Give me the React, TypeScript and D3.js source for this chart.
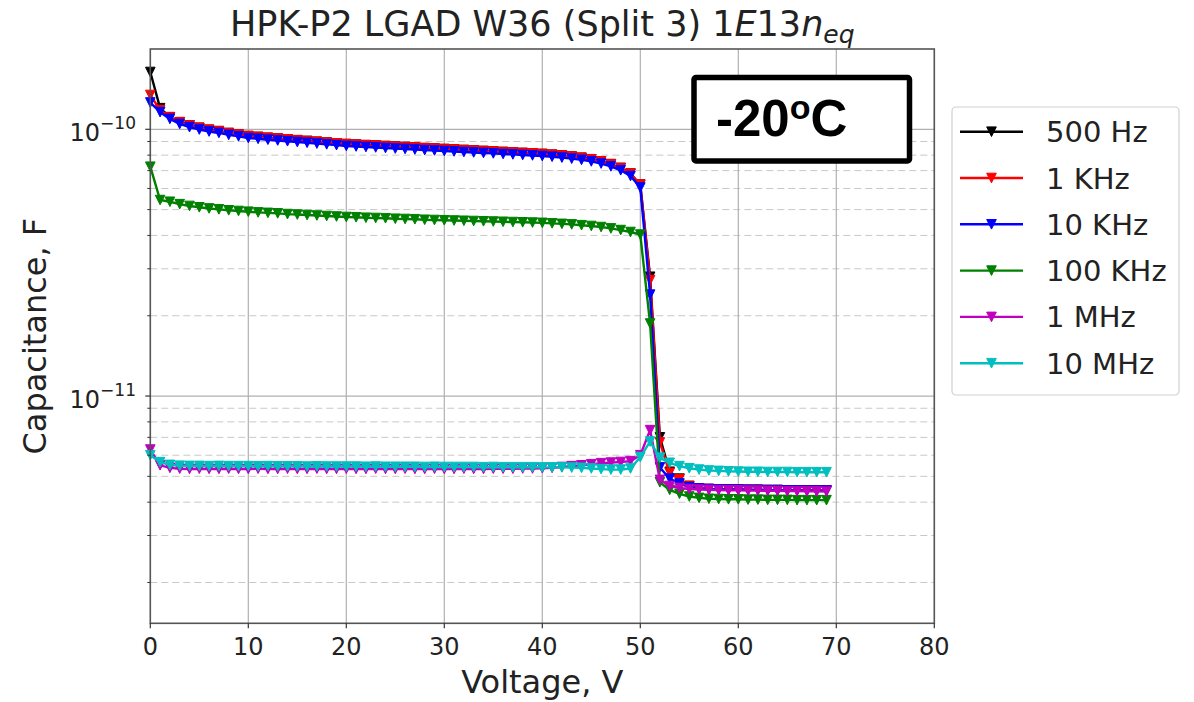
import * as d3 from "d3";
import { useEffect, useRef } from "react";

// bias voltage, V
const voltage = [
  0, 1, 2, 3, 4, 5, 6, 7, 8, 9, 10, 11, 12, 13, 14, 15, 16, 17, 18, 19,
  20, 21, 22, 23, 24, 25, 26, 27, 28, 29, 30, 31, 32, 33, 34, 35, 36, 37, 38, 39,
  40, 41, 42, 43, 44, 45, 46, 47, 48, 49, 50, 51, 52, 53, 54, 55, 56, 57, 58, 59,
  60, 61, 62, 63, 64, 65, 66, 67, 68, 69,
];

// capacitance in pF for each frequency
const c500Hz = [
  164, 120, 111, 106.3, 103.4, 101.3, 99.6, 98.4, 96.8, 95.6, 94.3, 93.6, 92.9, 92.3, 91.7, 91.0, 90.4, 89.8, 89.2, 88.6,
  88.0, 87.6, 87.2, 86.9, 86.5, 86.1, 85.8, 85.4, 85.0, 84.7, 84.3, 84.0, 83.6, 83.3, 82.9, 82.6, 82.2, 81.9, 81.5, 81.2,
  80.8, 80.3, 79.7, 79.0, 78.2, 77.2, 75.8, 74.0, 71.6, 68.2, 62.0, 28.0, 7.0, 5.2, 4.9, 4.6, 4.5, 4.48, 4.47, 4.46,
  4.46, 4.45, 4.45, 4.44, 4.44, 4.43, 4.43, 4.43, 4.42, 4.42,
];
const c1kHz = [
  134.5, 118, 111, 106.3, 103.4, 101.3, 99.6, 98.4, 96.8, 95.6, 94.3, 93.6, 92.9, 92.3, 91.7, 91.0, 90.4, 89.8, 89.2, 88.6,
  88.0, 87.6, 87.2, 86.9, 86.5, 86.1, 85.8, 85.4, 85.0, 84.7, 84.3, 84.0, 83.6, 83.3, 82.9, 82.6, 82.2, 81.9, 81.5, 81.2,
  80.8, 80.3, 79.7, 79.0, 78.2, 77.2, 75.8, 74.0, 71.6, 68.2, 62.0, 27.2, 6.7, 5.15, 4.87, 4.6, 4.5, 4.48, 4.47, 4.46,
  4.46, 4.45, 4.45, 4.44, 4.44, 4.43, 4.43, 4.43, 4.42, 4.42,
];
const c10kHz = [
  126, 116, 109.4, 104.7, 101.9, 99.8, 98.1, 96.9, 95.3, 94.1, 92.8, 92.1, 91.4, 90.8, 90.2, 89.6, 89.0, 88.4, 87.8, 87.2,
  86.6, 86.2, 85.8, 85.5, 85.1, 84.7, 84.4, 84.0, 83.6, 83.3, 82.9, 82.6, 82.2, 81.9, 81.5, 81.2, 80.8, 80.5, 80.1, 79.8,
  79.4, 78.9, 78.3, 77.6, 76.8, 75.8, 74.4, 72.6, 70.2, 66.8, 60.5, 24.0, 5.4, 4.9, 4.7, 4.55, 4.5, 4.48, 4.47, 4.46,
  4.46, 4.45, 4.45, 4.44, 4.44, 4.43, 4.43, 4.42, 4.42, 4.42,
];
const c100kHz = [
  72.4, 54.3, 53.5, 52.4, 51.6, 51.0, 50.5, 50.1, 49.7, 49.4, 49.1, 48.8, 48.6, 48.4, 48.1, 47.9, 47.7, 47.5, 47.3, 47.1,
  46.9, 46.8, 46.6, 46.5, 46.4, 46.2, 46.1, 46.0, 45.8, 45.7, 45.6, 45.5, 45.4, 45.3, 45.2, 45.1, 45.0, 44.9, 44.8, 44.7,
  44.6, 44.4, 44.2, 44.0, 43.7, 43.4, 43.0, 42.5, 41.9, 41.2, 40.3, 18.7, 4.75, 4.45, 4.3, 4.2, 4.15, 4.12, 4.11, 4.1,
  4.1, 4.09, 4.09, 4.08, 4.08, 4.08, 4.07, 4.07, 4.07, 4.07,
];
const c1MHz = [
  6.3, 5.5, 5.38, 5.34, 5.33, 5.34, 5.33, 5.33, 5.34, 5.33, 5.33, 5.34, 5.33, 5.33, 5.34, 5.33, 5.33, 5.34, 5.33, 5.33,
  5.34, 5.33, 5.33, 5.34, 5.33, 5.33, 5.34, 5.33, 5.33, 5.34, 5.33, 5.33, 5.34, 5.33, 5.33, 5.34, 5.34, 5.34, 5.35, 5.35,
  5.36, 5.38, 5.42, 5.46, 5.5, 5.55, 5.6, 5.63, 5.66, 5.7, 6.0, 7.45, 4.85, 4.6, 4.52, 4.48, 4.46, 4.45, 4.44, 4.43,
  4.43, 4.42, 4.42, 4.41, 4.41, 4.4, 4.4, 4.39, 4.39, 4.38,
];
const c10MHz = [
  6.0, 5.65, 5.52, 5.48, 5.47, 5.47, 5.46, 5.47, 5.46, 5.46, 5.46, 5.45, 5.46, 5.45, 5.45, 5.45, 5.44, 5.45, 5.44, 5.44,
  5.44, 5.44, 5.43, 5.44, 5.43, 5.43, 5.43, 5.43, 5.42, 5.43, 5.42, 5.42, 5.42, 5.42, 5.41, 5.42, 5.41, 5.41, 5.41, 5.41,
  5.4, 5.4, 5.4, 5.39, 5.38, 5.35, 5.32, 5.3, 5.3, 5.35, 5.9, 6.75, 5.87, 5.62, 5.46, 5.36, 5.3, 5.26, 5.24, 5.22,
  5.21, 5.2, 5.2, 5.19, 5.19, 5.19, 5.18, 5.18, 5.18, 5.18,
];

const seriesNames = ["500 Hz", "1 KHz", "10 KHz", "100 KHz", "1 MHz", "10 MHz"];
const seriesValues = [c500Hz, c1kHz, c10kHz, c100kHz, c1MHz, c10MHz];
const seriesColors = ["#000000", "#ff0000", "#0000ff", "#008000", "#bf00bf", "#00bfbf"];

const xTicks = [0, 10, 20, 30, 40, 50, 60, 70, 80];
const yMajorTicks = [1e-11, 1e-10];
const yMajorLabels = ["\u221211", "\u221210"];

const FONT = "DejaVu Sans, sans-serif";

function App() {
  const ref = useRef<SVGSVGElement>(null);

  useEffect(() => {
    const width = 1194;
    const height = 702;
    const left = 150.3;
    const right = 934.3;
    const top = 49;
    const bottom = 623.3;

    const svg = d3.select(ref.current);
    svg.selectAll("*").remove();

    const x = d3.scaleLinear().domain([0, 80]).range([left, right]);
    const y = d3.scaleLog().domain([1.406e-12, 2.0e-10]).range([bottom, top]);

    svg.append("rect").attr("width", width).attr("height", height).attr("fill", "#fff");

    // minor y ticks (2..9 x decade)
    const minor: number[] = [];
    [1e-12, 1e-11, 1e-10].forEach((dec) => {
      for (let k = 2; k <= 9; k++) {
        const v = k * dec;
        if (v > y.domain()[0] && v < y.domain()[1]) minor.push(v);
      }
    });

    const grid = svg.append("g");
    grid.selectAll(".ymin")
      .data(minor)
      .join("line")
      .attr("x1", left).attr("x2", right)
      .attr("y1", (d) => y(d)).attr("y2", (d) => y(d))
      .attr("stroke", "#c8c8c8")
      .attr("stroke-width", 1)
      .attr("stroke-dasharray", "7,4");
    grid.selectAll(".xgrid")
      .data(xTicks.slice(1, -1))
      .join("line")
      .attr("x1", (d) => x(d)).attr("x2", (d) => x(d))
      .attr("y1", top).attr("y2", bottom)
      .attr("stroke", "#b0b0b0")
      .attr("stroke-width", 1.2);
    grid.selectAll(".ymaj")
      .data(yMajorTicks)
      .join("line")
      .attr("x1", left).attr("x2", right)
      .attr("y1", (d) => y(d)).attr("y2", (d) => y(d))
      .attr("stroke", "#b0b0b0")
      .attr("stroke-width", 1.2);

    // data
    const tri = "M-4.8,-4.8L4.8,-4.8L0,4.8Z";
    const line = d3.line<number>()
      .x((_, i) => x(voltage[i]))
      .y((d) => y(d * 1e-12));

    const plot = svg.append("g");
    seriesValues.forEach((vals, si) => {
      const g = plot.append("g");
      g.append("path")
        .attr("d", line(vals))
        .attr("fill", "none")
        .attr("stroke", seriesColors[si])
        .attr("stroke-width", 2.4);
      g.selectAll("path.m")
        .data(vals)
        .join("path")
        .attr("class", "m")
        .attr("d", tri)
        .attr("transform", (d, i) => `translate(${x(voltage[i])},${y(d * 1e-12)})`)
        .attr("fill", seriesColors[si])
        .attr("stroke", seriesColors[si])
        .attr("stroke-width", 1);
    });

    // frame
    svg.append("rect")
      .attr("x", left).attr("y", top)
      .attr("width", right - left).attr("height", bottom - top)
      .attr("fill", "none")
      .attr("stroke", "#555")
      .attr("stroke-width", 1.6);

    // x ticks
    const xa = svg.append("g");
    xa.selectAll("line")
      .data(xTicks)
      .join("line")
      .attr("x1", (d) => x(d)).attr("x2", (d) => x(d))
      .attr("y1", bottom).attr("y2", bottom + 5)
      .attr("stroke", "#333").attr("stroke-width", 1.2);
    xa.selectAll("text")
      .data(xTicks)
      .join("text")
      .attr("x", (d) => x(d))
      .attr("y", 655)
      .attr("text-anchor", "middle")
      .attr("font-family", FONT)
      .attr("font-size", 24)
      .attr("fill", "#222")
      .text((d) => d);

    // y ticks
    const ya = svg.append("g");
    ya.selectAll("line.min")
      .data(minor)
      .join("line")
      .attr("class", "min")
      .attr("x1", left - 3).attr("x2", left)
      .attr("y1", (d) => y(d)).attr("y2", (d) => y(d))
      .attr("stroke", "#333").attr("stroke-width", 1);
    ya.selectAll("line.maj")
      .data(yMajorTicks)
      .join("line")
      .attr("class", "maj")
      .attr("x1", left - 5).attr("x2", left)
      .attr("y1", (d) => y(d)).attr("y2", (d) => y(d))
      .attr("stroke", "#333").attr("stroke-width", 1.2);
    const yl = ya.selectAll("text")
      .data(yMajorTicks)
      .join("text")
      .attr("x", 136)
      .attr("y", (d) => y(d) + 12)
      .attr("text-anchor", "end")
      .attr("font-family", FONT)
      .attr("fill", "#222");
    yl.append("tspan").attr("font-size", 24).text("10");
    yl.append("tspan")
      .attr("font-size", 17)
      .attr("dy", -12)
      .text((d, i) => yMajorLabels[i]);

    // axis labels
    svg.append("text")
      .attr("x", (left + right) / 2)
      .attr("y", 693)
      .attr("text-anchor", "middle")
      .attr("font-family", FONT)
      .attr("font-size", 32)
      .attr("fill", "#222")
      .text("Voltage, V");
    svg.append("text")
      .attr("transform", `translate(46,${(top + bottom) / 2}) rotate(-90)`)
      .attr("text-anchor", "middle")
      .attr("font-family", FONT)
      .attr("font-size", 32)
      .attr("fill", "#222")
      .text("Capacitance, F");

    // title with math part
    const title = svg.append("text")
      .attr("x", (left + right) / 2)
      .attr("y", 36)
      .attr("text-anchor", "middle")
      .attr("font-family", FONT)
      .attr("font-size", 35)
      .attr("fill", "#222");
    title.append("tspan").text("HPK-P2 LGAD W36 (Split 3) 1");
    title.append("tspan").attr("font-style", "italic").text("E");
    title.append("tspan").text("13");
    title.append("tspan").attr("font-style", "italic").text("n");
    title.append("tspan").attr("font-style", "italic").attr("font-size", 25).attr("dy", 7).text("eq");

    // temperature box
    svg.append("rect")
      .attr("x", 694).attr("y", 77.5)
      .attr("width", 215.5).attr("height", 83.5)
      .attr("fill", "#fff")
      .attr("stroke", "#000")
      .attr("stroke-width", 5.5)
      .attr("rx", 2);
    const temp = svg.append("text")
      .attr("x", 716)
      .attr("y", 136)
      .attr("font-family", "Liberation Sans, Arial, sans-serif")
      .attr("font-weight", "bold")
      .attr("font-size", 51)
      .attr("fill", "#000");
    temp.append("tspan").text("-20");
    temp.append("tspan").attr("font-size", 34).attr("dy", -17).text("o");
    temp.append("tspan").attr("dy", 17).text("C");

    // legend
    const lg = svg.append("g");
    lg.append("rect")
      .attr("x", 952).attr("y", 107)
      .attr("width", 227).attr("height", 288)
      .attr("rx", 4)
      .attr("fill", "#fff")
      .attr("stroke", "#d0d0d0")
      .attr("stroke-width", 1.2);
    seriesNames.forEach((name, i) => {
      const cy = 131.7 + i * 46.3;
      lg.append("line")
        .attr("x1", 960).attr("x2", 1023)
        .attr("y1", cy).attr("y2", cy)
        .attr("stroke", seriesColors[i])
        .attr("stroke-width", 2.4);
      lg.append("path")
        .attr("d", tri)
        .attr("transform", `translate(991.5,${cy})`)
        .attr("fill", seriesColors[i])
        .attr("stroke", seriesColors[i]);
      lg.append("text")
        .attr("x", 1046)
        .attr("y", cy + 10.5)
        .attr("font-family", FONT)
        .attr("font-size", 29)
        .attr("fill", "#222")
        .text(name);
    });
  }, []);

  return (
    <svg
      ref={ref}
      width={1194}
      height={702}
      style={{ position: "absolute", left: 0, top: 0, display: "block" }}
    />
  );
}

export default App;
